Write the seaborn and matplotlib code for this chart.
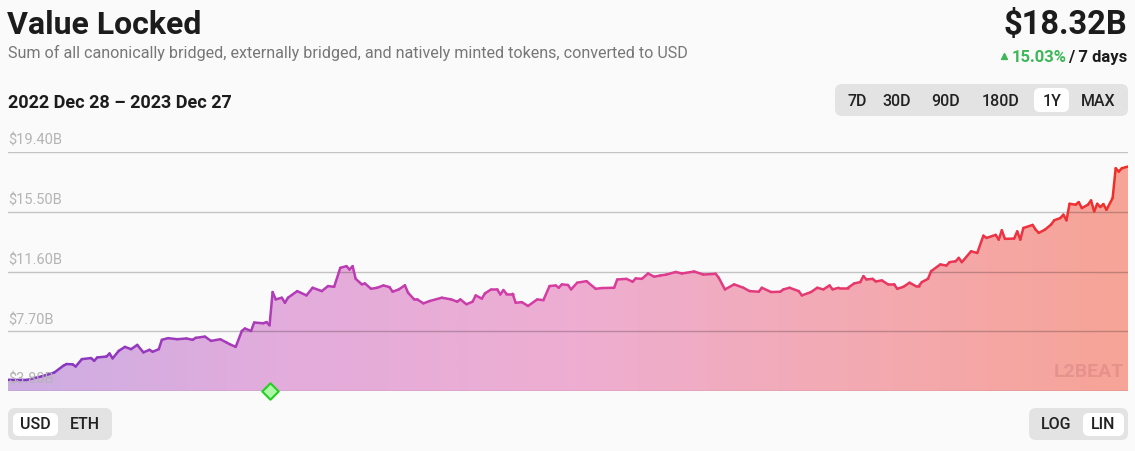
import numpy as np
import pandas as pd
import matplotlib
matplotlib.use("Agg")
import matplotlib.pyplot as plt
import matplotlib.dates as mdates
import seaborn as sns
from matplotlib.collections import LineCollection
from matplotlib.colors import LinearSegmentedColormap
from matplotlib.patches import FancyBboxPatch

# ── Data ──
START = "2022-12-28"
days = [0, 6, 11, 15, 18, 19, 21, 22, 24, 27, 28, 29, 32, 33, 34, 36, 38, 40, 42, 44,
        46, 47, 49, 50, 52, 55, 58, 60, 61, 64, 66, 69, 71, 72, 74, 76, 77, 79, 80, 83,
        84, 85, 86, 87, 89, 90, 91, 94, 97, 99, 102, 104, 106, 108, 110, 111, 112, 113, 115, 116,
        118, 120, 122, 124, 125, 127, 129, 130, 132, 133, 135, 137, 141, 144, 146, 147, 149, 151, 152, 154,
        155, 157, 159, 160, 161, 162, 164, 165, 167, 169, 172, 174, 176, 178, 179, 180, 182, 183, 185, 188,
        191, 193, 197, 198, 201, 203, 204, 206, 208, 210, 212, 214, 217, 219, 223, 226, 230, 231, 233, 236,
        239, 241, 244, 245, 248, 251, 252, 254, 257, 258, 261, 263, 265, 267, 268, 270, 273, 275, 277, 278,
        279, 281, 282, 284, 286, 288, 289, 291, 293, 295, 296, 297, 299, 300, 303, 305, 306, 308, 309, 310,
        313, 315, 317, 318, 321, 322, 323, 324, 327, 328, 329, 330, 333, 334, 335, 337, 339, 340, 342, 343,
        344, 345, 347, 348, 349, 351, 352, 353, 354, 355, 356, 357, 359, 360, 361, 362, 364]
tvl_b = [4.53, 4.52, 4.76, 5.00, 5.45, 5.56, 5.54, 5.40, 5.88, 5.95, 5.77, 5.99, 6.05, 6.25, 5.93, 6.42, 6.68, 6.53, 6.81, 6.32,
         6.49, 6.36, 6.53, 7.14, 7.25, 7.18, 7.23, 7.14, 7.27, 7.35, 7.07, 7.18, 6.97, 6.86, 6.68, 7.72, 7.88, 7.72, 8.27, 8.22,
         8.30, 8.09, 10.26, 9.78, 9.89, 9.56, 9.89, 10.32, 10.04, 10.54, 10.32, 10.65, 10.60, 11.84, 11.95, 11.73, 11.95, 11.12, 10.76, 10.82,
         10.47, 10.54, 10.69, 10.58, 10.28, 10.43, 10.70, 10.22, 9.78, 9.78, 9.52, 9.67, 9.89, 9.78, 9.63, 9.78, 9.46, 9.63, 10.04, 9.83,
         10.17, 10.43, 10.43, 10.10, 10.39, 10.15, 10.15, 9.56, 9.60, 9.35, 9.78, 9.73, 10.65, 10.69, 10.54, 10.76, 10.72, 10.43, 10.87, 10.97,
         10.47, 10.52, 10.54, 11.08, 11.12, 10.93, 11.15, 11.12, 11.47, 11.26, 11.34, 11.40, 11.57, 11.47, 11.60, 11.40, 11.45, 11.19, 10.43, 10.76,
         10.54, 10.32, 10.28, 10.54, 10.26, 10.28, 10.43, 10.54, 10.32, 10.04, 10.26, 10.54, 10.43, 10.69, 10.43, 10.54, 10.54, 10.82, 10.91, 11.30,
         11.08, 11.12, 10.95, 11.02, 10.76, 10.76, 10.47, 10.60, 10.87, 10.65, 10.65, 10.91, 11.12, 11.62, 12.06, 11.99, 12.21, 12.27, 12.49, 12.21,
         12.92, 12.81, 13.94, 13.79, 13.99, 13.68, 14.29, 13.73, 13.75, 14.22, 13.68, 14.44, 14.64, 14.33, 14.12, 14.33, 14.66, 14.94, 15.09, 15.31,
         14.94, 16.02, 15.96, 16.13, 15.74, 15.96, 16.24, 15.52, 16.02, 15.81, 16.00, 15.63, 16.39, 18.34, 18.12, 18.34, 18.45]
y_ticks = [3.80, 7.70, 11.60, 15.50, 19.40]
event_date = "2023-03-23"
range_buttons = ["7D", "30D", "90D", "180D", "1Y", "MAX"]
unit_buttons = ["USD", "ETH"]
scale_buttons = ["LOG", "LIN"]

BG = "#fafafa"
W, H = 1135, 452

sns.set_theme(style="white")
plt.rcParams["font.family"] = ["Roboto", "DejaVu Sans"]

fig = plt.figure(figsize=(W / 100, H / 100), dpi=100, facecolor=BG)

# ── Chart axes ──
ax = fig.add_axes([8 / W, (H - 392) / H, 1120 / W, 239 / H])
ax.set_facecolor(BG)

df = pd.DataFrame({
    "date": pd.Timestamp(START) + pd.to_timedelta(days, unit="D"),
    "value": tvl_b,
})
sns.lineplot(data=df, x="date", y="value", ax=ax)
line = ax.lines[0]
xnum = mdates.date2num(df["date"])
yv = df["value"].to_numpy()
line.remove()
ax.set_xlabel("")
ax.set_ylabel("")

x0, x1 = xnum[0], xnum[-1]
ymin, ymax = y_ticks[0], y_ticks[-1]

# gradient fill clipped to the area under the curve
fill_cmap = LinearSegmentedColormap.from_list(
    "fill", ["#cdaee3", "#e3acdc", "#eeaed2", "#f3aab3", "#f7a497"])
poly = ax.fill_between(xnum, yv, ymin, facecolor="none", edgecolor="none")
grad = np.linspace(0, 1, 512).reshape(1, -1)
im = ax.imshow(grad, cmap=fill_cmap, extent=[x0, x1, ymin, ymax],
               aspect="auto", origin="lower", zorder=1)
im.set_clip_path(poly.get_paths()[0], transform=ax.transData)

# gradient line
line_cmap = LinearSegmentedColormap.from_list(
    "line", ["#7e36c2", "#b23cb8", "#d83ea2", "#e8386a", "#f02f26"])
pts = np.column_stack([xnum, yv]).reshape(-1, 1, 2)
segs = np.concatenate([pts[:-1], pts[1:]], axis=1)
lc = LineCollection(segs, cmap=line_cmap, linewidth=1.8, zorder=4,
                    capstyle="round", joinstyle="round")
lc.set_array((xnum[:-1] + xnum[1:]) / 2)
lc.set_clim(x0, x1)
ax.add_collection(lc)

# grid lines and labels inside the plot
for v in y_ticks:
    ax.axhline(v, color=(0, 0, 0, 0.22), lw=1, zorder=3)
    ax.annotate(f"${v:.2f}B", xy=(0, v), xycoords=("axes fraction", "data"),
                xytext=(0, 5), textcoords="offset pixels", ha="left", va="bottom",
                fontsize=10.5, color="#b4b4b4", zorder=5)

ax.scatter([mdates.date2num(pd.Timestamp(event_date))], [ymin], marker="D", s=70,
           facecolor="#aef7a8", edgecolor="#22d022", linewidth=1.5, zorder=6, clip_on=False)

ax.set_xlim(x0, x1)
ax.set_ylim(ymin, ymax)
ax.set_xticks([])
ax.set_yticks([])
for s in ax.spines.values():
    s.set_visible(False)

# ── Overlay in pixel coordinates for header / controls ──
ov = fig.add_axes([0, 0, 1, 1])
ov.set_xlim(0, W)
ov.set_ylim(H, 0)
ov.axis("off")


def box(xa, ya, xb, yb, color, r=7):
    ov.add_patch(FancyBboxPatch((xa, ya), xb - xa, yb - ya,
                                boxstyle=f"round,pad=0,rounding_size={r}",
                                fc=color, ec="none"))


DARK = "#1c1c1c"
ov.text(7, 34, "Value Locked", fontsize=23, fontweight="bold", color=DARK, va="baseline")
ov.text(8, 58, "Sum of all canonically bridged, externally bridged, and natively minted tokens, converted to USD",
        fontsize=11.6, color="#777777", va="baseline")
ov.text(8, 108, "2022 Dec 28 \u2013 2023 Dec 27", fontsize=13, fontweight="bold",
        color=DARK, va="baseline")

ov.text(1127, 34, "$18.32B", fontsize=23.5, fontweight="bold", color=DARK, ha="right", va="baseline")
ov.text(1127, 62, "/ 7 days", fontsize=12, fontweight="bold", color=DARK, ha="right", va="baseline")
ov.text(1067, 62, "15.03%", fontsize=12, fontweight="bold", color="#3db757", ha="right", va="baseline")
ov.scatter([1003.5], [57], marker="^", s=18, color="#3db757")

# time range selector
box(835, 85, 1128, 117, "#e3e3e3")
box(1034, 89, 1069, 113, "white", r=6)
for lab, cx in zip(range_buttons, [857, 897, 946, 1001, 1052, 1098]):
    ov.text(cx, 101, lab, fontsize=11.5, fontweight="medium", color="#222222", ha="center", va="center")

# unit selector
box(8, 409, 112, 441, "#e3e3e3")
box(13, 414, 58, 437, "white", r=6)
for lab, cx in zip(unit_buttons, [35, 85]):
    ov.text(cx, 425, lab, fontsize=11.5, fontweight="medium", color="#222222", ha="center", va="center")

# scale selector
box(1029, 409, 1128, 441, "#e3e3e3")
box(1083, 414, 1124, 437, "white", r=6)
for lab, cx in zip(scale_buttons, [1056, 1103]):
    ov.text(cx, 425, lab, fontsize=11.5, fontweight="medium", color="#222222", ha="center", va="center")

# watermark
ov.text(1089, 372, "L2BEAT", fontsize=14, fontweight="bold", color="#a04050", alpha=0.18,
        ha="center", va="center")

plt.savefig("out.png", dpi=100, facecolor=BG)
plt.close()
